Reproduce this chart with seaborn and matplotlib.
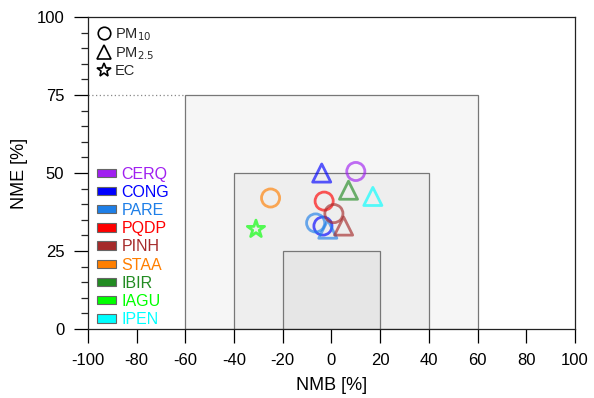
import matplotlib
matplotlib.use("Agg")
import matplotlib.pyplot as plt
from matplotlib.patches import Rectangle, Patch
from matplotlib.lines import Line2D
import pandas as pd
import seaborn as sns

# site / species / NMB / NME
sites = ["CERQ", "CONG", "CONG", "PARE", "PARE", "PQDP", "PINH", "PINH",
         "STAA", "IBIR", "IAGU", "IPEN"]
species = ["PM10", "PM2.5", "PM10", "PM10", "PM2.5", "PM10", "PM10", "PM2.5",
           "PM10", "PM2.5", "EC", "PM2.5"]
nmb = [10, -4, -3.5, -6.5, -1.5, -3, 1, 5, -25, 7, -31, 17]
nme = [50.5, 50, 33, 34, 32, 41, 37, 33, 42, 44.5, 32, 42.5]

site_order = ["CERQ", "CONG", "PARE", "PQDP", "PINH", "STAA", "IBIR", "IAGU", "IPEN"]
site_colors = ["#a020f0", "#0000ff", "#1e7fe8", "#ff0000", "#a52a2a",
               "#ff7f00", "#228b22", "#00ff00", "#00ffff"]
species_names = ["PM10", "PM2.5", "EC"]
species_labels = ["PM$_{10}$", "PM$_{2.5}$", "EC"]
species_markers = ["o", "^", "*"]

df = pd.DataFrame({"site": sites, "species": species, "NMB": nmb, "NME": nme})

sns.set_style("ticks")
plt.rcParams["font.family"] = ["Liberation Sans", "DejaVu Sans"]
plt.rcParams["axes.unicode_minus"] = False

fig = plt.figure(figsize=(5.94, 3.98), dpi=100)
ax = fig.add_axes([0.148, 0.1734, 0.82, 0.7836])

# goal / criteria boxes
for half, top, fc in [(60, 75, "#f6f6f6"), (40, 50, "#eeeeee"), (20, 25, "#e6e6e6")]:
    ax.add_patch(Rectangle((-half, 0), 2 * half, top, facecolor=fc,
                           edgecolor="#777777", lw=0.9, zorder=1))
ax.plot([-100, -60], [75, 75], ls=(0, (1, 2)), color="#888888", lw=0.9, zorder=1)

sns.scatterplot(data=df, x="NMB", y="NME", hue="site", hue_order=site_order,
                palette=site_colors, style="species", style_order=species_names,
                markers=dict(zip(species_names, species_markers)),
                s=170, legend=False, ax=ax, zorder=3)
coll = ax.collections[-1]
cols = coll.get_facecolors()
cols[:, 3] = 0.65
coll.set_edgecolors(cols)
coll.set_facecolors("none")
coll.set_linewidths(2)

ax.set_xlim(-100, 100)
ax.set_ylim(0, 100)
ax.set_xticks(range(-100, 101, 20))
ax.set_yticks(range(0, 101, 25))
ax.set_yticks(range(0, 101, 5), minor=True)
ax.tick_params(which="major", length=10, width=0.9, labelsize=12, pad=7,
               colors="black")
ax.tick_params(which="minor", length=5, width=0.9)
for sp in ax.spines.values():
    sp.set_linewidth(0.9)
    sp.set_color("#222222")
    sp.set_zorder(4)
ax.set_xlabel("NMB [%]", fontsize=13, labelpad=7, color="black")
ax.set_ylabel("NME [%]", fontsize=13, labelpad=6, color="black")

# marker legend
mk_handles = [Line2D([], [], ls="none", marker=m, mfc="none", mec="black",
                     mew=1.2, ms=10 if m != "o" else 9) for m in species_markers]
leg1 = ax.legend(mk_handles, species_labels, loc="upper left",
                 bbox_to_anchor=(0.02, 0.97), frameon=False,
                 fontsize=10.5, handlelength=0.9, handletextpad=0.3,
                 labelspacing=0.15, borderaxespad=0, borderpad=0)
ax.add_artist(leg1)

# site colour legend
site_handles = [Patch(facecolor=c, edgecolor="#666666", lw=0.8) for c in site_colors]
ax.legend(site_handles, site_order, loc="lower left", bbox_to_anchor=(0.018, 0.006),
          frameon=False, fontsize=11.5, labelcolor=site_colors, handlelength=1.2,
          handleheight=0.42, handletextpad=0.35, labelspacing=0.2,
          borderaxespad=0, borderpad=0)

fig.savefig("out.png", dpi=100)
